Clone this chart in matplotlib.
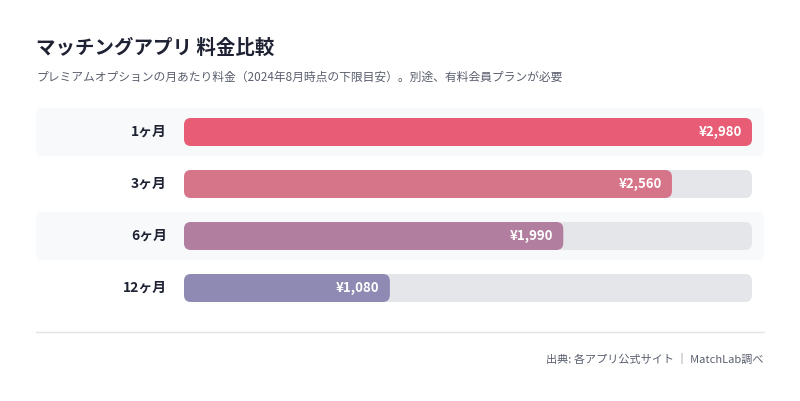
import matplotlib
matplotlib.use("Agg")
import matplotlib.pyplot as plt
from matplotlib.patches import FancyBboxPatch, Rectangle

plt.rcParams['font.family'] = ['Noto Sans CJK JP', 'DejaVu Sans']

categories = ["1ヶ月", "3ヶ月", "6ヶ月", "12ヶ月"]
values = [2980, 2560, 1990, 1080]
value_labels = ["¥2,980", "¥2,560", "¥1,990", "¥1,080"]
colors = ["#E85C75", "#D67489", "#B27E9F", "#8E8AB3"]
vmax = 2980

W, H = 800, 401
fig = plt.figure(figsize=(W/100, H/100), dpi=100)
ax = fig.add_axes([0, 0, 1, 1])
ax.set_xlim(0, W); ax.set_ylim(H, 0); ax.axis('off')

ax.text(36, 48, "マッチングアプリ 料金比較", fontsize=14, fontweight='bold', color='#1F2233', va='center')
ax.text(36, 77, "プレミアムオプションの月あたり料金（2024年8月時点の下限目安）。別途、有料会員プランが必要",
        fontsize=8.5, color='#5A5F6E', va='center')

x0, x1 = 184, 752
bh = 28
for i, (c, v, lab, col) in enumerate(zip(categories, values, value_labels, colors)):
    yc = 132 + 52 * i
    if i % 2 == 0:
        ax.add_patch(FancyBboxPatch((36, yc - 24), 728, 48, boxstyle="round,pad=0,rounding_size=6",
                                    fc='#F8F9FB', ec='none'))
    ax.add_patch(FancyBboxPatch((x0, yc - bh/2), x1 - x0, bh, boxstyle="round,pad=0,rounding_size=7",
                                fc='#E5E6EA', ec='none'))
    xe = x0 + v / vmax * (x1 - x0)
    ax.add_patch(FancyBboxPatch((x0, yc - bh/2), xe - x0, bh, boxstyle="round,pad=0,rounding_size=7",
                                fc=col, ec='none'))
    ax.text(167, yc, c, fontsize=10, fontweight='bold', color='#1F2233', ha='right', va='center')
    ax.text(xe - 10, yc, lab, fontsize=9.5, fontweight='bold', color='white', ha='right', va='center')

ax.plot([36, 764], [332, 332], color='#E3E4E8', lw=1)
ax.text(764, 359, "出典: 各アプリ公式サイト ｜ MatchLab調べ", fontsize=8, color='#5A5F6E', ha='right', va='center')

fig.savefig("out.png", dpi=100, facecolor='white')
